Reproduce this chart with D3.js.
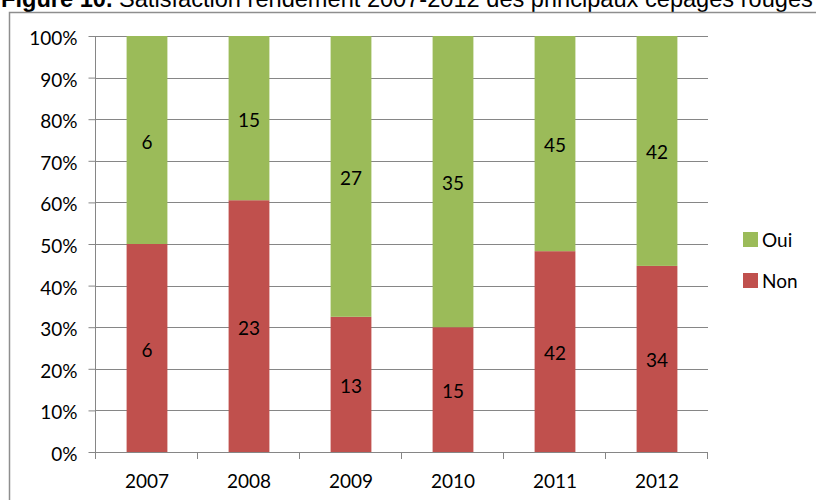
<!DOCTYPE html>
<html>
<head>
<meta charset="utf-8">
<script src="https://cdn.jsdelivr.net/npm/d3@7"></script>
<style>
  body { margin: 0; background: #fff; }
  svg { display: block; }
  text { font-family: Lato, "Open Sans", sans-serif; fill: #000; }
</style>
</head>
<body>
<div id="chart"></div>
<script type="text/javascript">
var years = ["2007", "2008", "2009", "2010", "2011", "2012"],
    oui = [6, 15, 27, 35, 45, 42],
    non = [6, 23, 13, 15, 42, 34],
    yTicks = [0, 0.1, 0.2, 0.3, 0.4, 0.5, 0.6, 0.7, 0.8, 0.9, 1],
    seriesNames = ["Oui", "Non"],
    colors = { Oui: "#9bbb59", Non: "#c0504d" };

// note: "top" is reserved on window, so plot edges get their own names
var W = 816, H = 500,
    pLeft = 96, pRight = 708, pTop = 36, pBottom = 452;

var svg = d3.select("#chart").append("svg")
    .attr("width", W)
    .attr("height", H);

// title, clipped at the top like the source
var title = svg.append("text")
    .attr("x", 1)
    .attr("y", 7)
    .style("font-family", "'Liberation Sans', Arial, sans-serif")
    .style("font-size", "23.6px");
title.append("tspan").style("font-weight", "bold").text("Figure 10.");
title.append("tspan").text(" Satisfaction rendement 2007-2012 des principaux cépages rouges");

// chart frame (left + top edges visible)
svg.append("path")
    .attr("d", "M9.5," + H + "V12.5H" + W)
    .attr("fill", "none")
    .attr("stroke", "#8e8e8e")
    .attr("stroke-width", 1.5);

var x = d3.scaleBand()
    .domain(years)
    .range([pLeft, pRight])
    .paddingInner(0.6)
    .paddingOuter(0.3);

var y = d3.scaleLinear()
    .domain([0, 1])
    .range([pBottom, pTop]);

// gridlines
svg.append("g").selectAll("line")
    .data(yTicks.slice(1))
  .enter().append("line")
    .attr("x1", pLeft)
    .attr("x2", pRight)
    .attr("y1", function(d) { return Math.round(y(d)) + 0.5; })
    .attr("y2", function(d) { return Math.round(y(d)) + 0.5; })
    .attr("stroke", "#868686")
    .attr("stroke-width", 1);

// stacked percentage data
var rows = years.map(function(yr, i) {
  return { year: yr, Non: non[i], Oui: oui[i] };
});
var stack = d3.stack()
    .keys(["Non", "Oui"])
    .offset(d3.stackOffsetExpand);
var layers = stack(rows);

var g = svg.append("g");
layers.forEach(function(layer) {
  var key = layer.key;
  g.selectAll("rect." + key)
      .data(layer)
    .enter().append("rect")
      .attr("class", key)
      .attr("x", function(d) { return x(d.data.year); })
      .attr("width", x.bandwidth())
      .attr("y", function(d) { return y(d[1]); })
      .attr("height", function(d) { return y(d[0]) - y(d[1]); })
      .attr("fill", colors[key]);

  g.selectAll("text." + key)
      .data(layer)
    .enter().append("text")
      .attr("class", key)
      .attr("x", function(d) { return x(d.data.year) + x.bandwidth() / 2; })
      .attr("y", function(d) { return (y(d[0]) + y(d[1])) / 2; })
      .attr("dy", "0.45em")
      .attr("text-anchor", "middle")
      .style("font-size", "19px")
      .text(function(d) { return d.data[key]; });
});

// y axis
var yAxis = d3.axisLeft(y)
    .tickValues(yTicks)
    .tickFormat(d3.format(".0%"))
    .tickSize(7)
    .tickPadding(11);
var ya = svg.append("g")
    .attr("transform", "translate(" + (pLeft - 0.5) + ",0)")
    .call(yAxis);
ya.select(".domain").attr("stroke", "#868686").attr("d", "M0," + pTop + "V" + pBottom);
ya.selectAll(".tick line").attr("stroke", "#868686");
ya.selectAll(".tick text")
    .style("font-size", "19px")
    .style("font-family", "Lato, sans-serif")
    .attr("dy", "0.45em");

// x axis
svg.append("line")
    .attr("x1", pLeft - 7)
    .attr("x2", pRight)
    .attr("y1", pBottom + 0.5)
    .attr("y2", pBottom + 0.5)
    .attr("stroke", "#868686");
svg.append("g").selectAll("line")
    .data(d3.range(years.length + 1))
  .enter().append("line")
    .attr("x1", function(i) { return Math.round(pLeft + i * x.step()) - 0.5; })
    .attr("x2", function(i) { return Math.round(pLeft + i * x.step()) - 0.5; })
    .attr("y1", pBottom)
    .attr("y2", pBottom + 7)
    .attr("stroke", "#868686");
svg.append("g").selectAll("text")
    .data(years)
  .enter().append("text")
    .attr("x", function(d) { return x(d) + x.bandwidth() / 2; })
    .attr("y", 488)
    .attr("text-anchor", "middle")
    .style("font-size", "19px")
    .text(function(d) { return d; });

// legend
var legend = svg.append("g").selectAll("g")
    .data(seriesNames)
  .enter().append("g")
    .attr("transform", function(d, i) { return "translate(743," + (232 + i * 41) + ")"; });
legend.append("rect")
    .attr("width", 15)
    .attr("height", 15)
    .attr("fill", function(d) { return colors[d]; });
legend.append("text")
    .attr("x", 19)
    .attr("y", 15)
    .style("font-size", "19px")
    .text(function(d) { return d; });
</script>
</body>
</html>
